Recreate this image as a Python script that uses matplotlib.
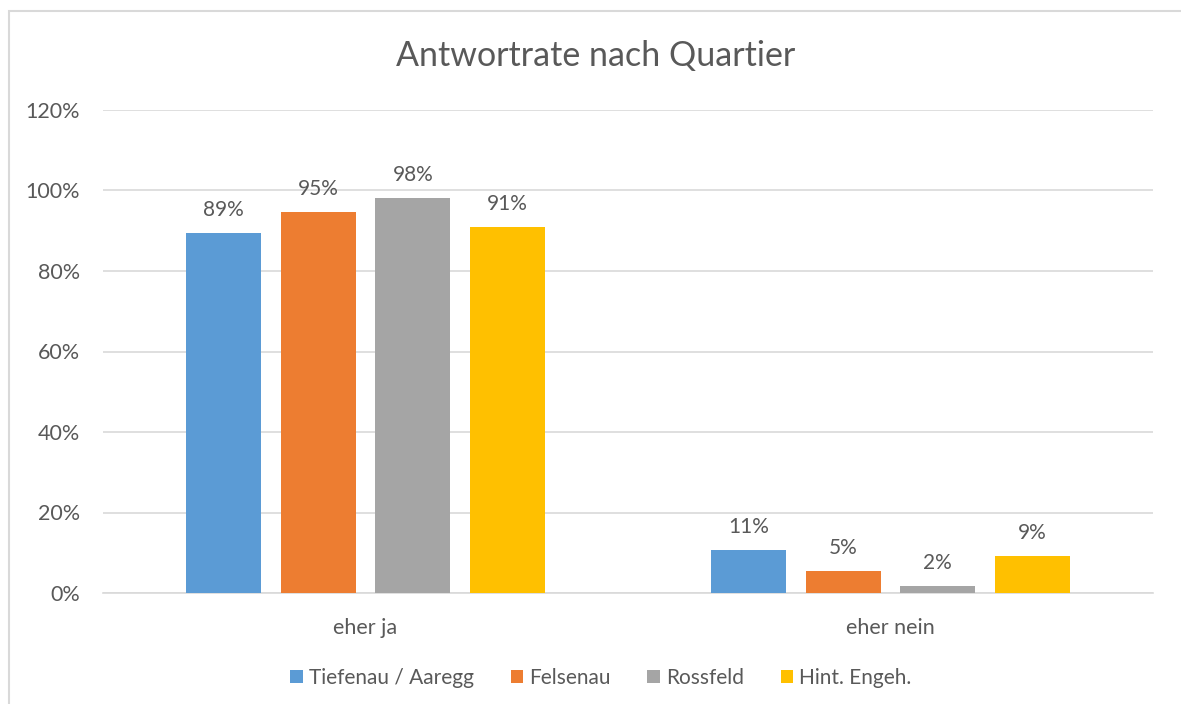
import numpy as np
import matplotlib.pyplot as plt
from matplotlib.patches import Rectangle

plt.rcParams['font.family'] = ['Lato', 'DejaVu Sans']

categories = ['eher ja', 'eher nein']
series = ['Tiefenau / Aaregg', 'Felsenau', 'Rossfeld', 'Hint. Engeh.']
values = [
    [89.4, 10.6],
    [94.6, 5.4],
    [98.2, 1.8],
    [90.9, 9.1],
]
labels = [
    ['89%', '11%'],
    ['95%', '5%'],
    ['98%', '2%'],
    ['91%', '9%'],
]
colors = ['#5B9BD5', '#ED7D31', '#A5A5A5', '#FFC000']
text_col = '#595959'

fig = plt.figure(figsize=(11.81, 7.04), dpi=100)
# chart border (light gray frame)
fig.patches.append(Rectangle((9 / 1181, -0.05), 1.2, 1 - 11 / 704 + 0.05,
                             transform=fig.transFigure, fill=False,
                             edgecolor='#D9D9D9', linewidth=1.5))

ax = fig.add_axes([103 / 1181, 1 - 593 / 704, 1050 / 1181, 483 / 704])

x = np.arange(len(categories))
bw = 0.1425
step = 0.18
for i, (s, vals) in enumerate(zip(series, values)):
    pos = x + (i - 1.5) * step
    bars = ax.bar(pos, vals, width=bw, color=colors[i], label=s, zorder=3)
    for b, lab in zip(bars, labels[i]):
        ax.text(b.get_x() + b.get_width() / 2, b.get_height() + 3.2, lab,
                ha='center', va='bottom', fontsize=15, color=text_col)

ax.set_xlim(-0.5, 1.5)
ax.set_ylim(0, 120)
ax.set_yticks(np.arange(0, 121, 20))
ax.set_yticklabels([f'{v}%' for v in range(0, 121, 20)])
ax.set_xticks(x)
ax.set_xticklabels(categories)
ax.grid(axis='y', color='#D9D9D9', linewidth=1.2, zorder=0)
for sp in ['top', 'right', 'left']:
    ax.spines[sp].set_visible(False)
ax.spines['bottom'].set_color('#D9D9D9')
ax.spines['bottom'].set_linewidth(1.2)
ax.tick_params(axis='both', length=0, colors=text_col, labelsize=15.5)
ax.tick_params(axis='y', pad=16.5)
ax.tick_params(axis='x', pad=18)

fig.text(596 / 1181, 1 - 56 / 704, 'Antwortrate nach Quartier', ha='center',
         va='center', fontsize=24.5, color=text_col)

leg = fig.legend(loc='center', bbox_to_anchor=(601 / 1181, 1 - 678 / 704),
                 ncol=4, frameon=False, fontsize=15, handlelength=0.6,
                 handleheight=0.6, handletextpad=0.3, columnspacing=1.75)
for t in leg.get_texts():
    t.set_color(text_col)

fig.savefig('out.png', dpi=100)
